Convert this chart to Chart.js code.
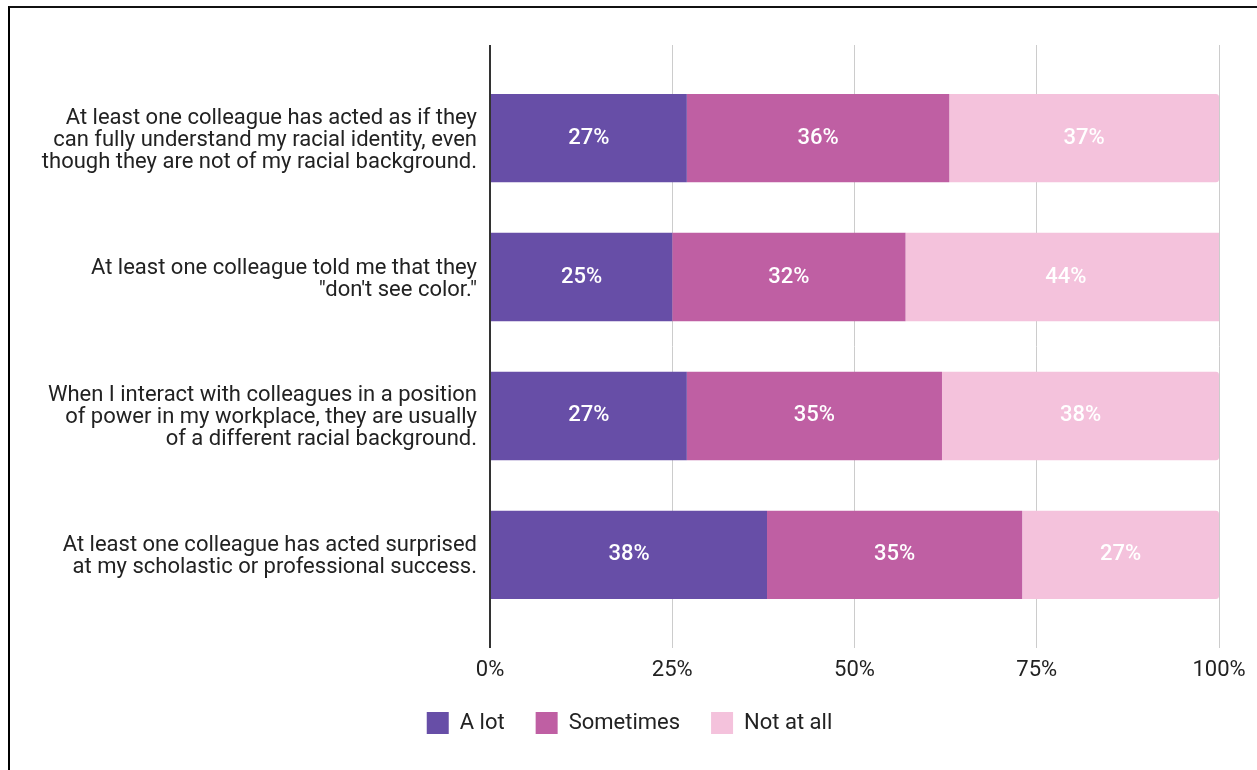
<!DOCTYPE html>
<html>
<head>
<meta charset="utf-8">
<title>Experiences with colleagues</title>
<script src="https://cdn.jsdelivr.net/npm/chart.js@4.4.1/dist/chart.umd.min.js"></script>
<style>
  html, body { margin: 0; padding: 0; background: #fff; }
  #frame {
    position: absolute; left: 8px; top: 6px; right: 0; bottom: 0;
    border-left: 2px solid #000; border-top: 2px solid #111;
  }
  #wrap { position: absolute; left: 0; top: 0; width: 1257px; height: 770px; }
</style>
</head>
<body>
<div id="frame"></div>
<div id="wrap"><canvas id="experienceChart" width="1257" height="770"></canvas></div>
<script>
// statements shown on the left, one array of lines each
const statements = [
  ['At least one colleague has acted as if they', 'can fully understand my racial identity, even', 'though they are not of my racial background.'],
  ['At least one colleague told me that they', '"don\'t see color."'],
  ['When I interact with colleagues in a position', 'of power in my workplace, they are usually', 'of a different racial background.'],
  ['At least one colleague has acted surprised', 'at my scholastic or professional success.']
];

const seriesNames = ['A lot', 'Sometimes', 'Not at all'];
const aLot = [27, 25, 27, 38];
const sometimes = [36, 32, 35, 35];
const notAtAll = [37, 44, 38, 27];

const xTicks = [0, 25, 50, 75, 100];
const colors = ['#674ea7', '#bf5fa3', '#f4c2dc'];

const FONT = 'Roboto, "Noto Sans", Arial, sans-serif';

// one bar row per statement, index on a linear y scale
function rows(values) {
  return values.map((v, i) => ({ x: v, y: i }));
}

// white percentage text centred on each segment
const segmentLabels = {
  id: 'segmentLabels',
  afterDatasetsDraw(chart) {
    const ctx = chart.ctx;
    ctx.save();
    ctx.font = '500 22px ' + FONT;
    ctx.fillStyle = '#ffffff';
    ctx.textAlign = 'center';
    ctx.textBaseline = 'middle';
    chart.data.datasets.forEach((ds, di) => {
      const meta = chart.getDatasetMeta(di);
      meta.data.forEach((bar, i) => {
        const p = bar.getProps(['x', 'y', 'base'], true);
        ctx.fillText(ds.data[i].x + '%', (p.x + p.base) / 2, p.y);
      });
    });
    ctx.restore();
  }
};

const seriesData = [aLot, sometimes, notAtAll];

const datasets = seriesNames.map((name, k) => ({
  label: name,
  data: rows(seriesData[k]),
  backgroundColor: colors[k],
  borderWidth: 0,
  borderRadius: k === seriesNames.length - 1 ? { topRight: 3, bottomRight: 3 } : 0,
  borderSkipped: false,
  barPercentage: 1,
  categoryPercentage: 0.636
}));

const ctx = document.getElementById('experienceChart').getContext('2d');

new Chart(ctx, {
  type: 'bar',
  data: { datasets: datasets },
  plugins: [segmentLabels],
  options: {
    indexAxis: 'y',
    responsive: false,
    animation: false,
    layout: { padding: { top: 45, right: 38, bottom: 26, left: 40 } },
    plugins: {
      legend: {
        position: 'bottom',
        labels: {
          boxWidth: 22,
          boxHeight: 22,
          padding: 31,
          color: '#222',
          font: { family: FONT, size: 22 }
        }
      },
      tooltip: { enabled: false }
    },
    scales: {
      x: {
        type: 'linear',
        stacked: true,
        min: 0,
        max: 100,
        afterBuildTicks: (scale) => { scale.ticks = xTicks.map(v => ({ value: v })); },
        afterFit: (scale) => { scale.height = 33; },
        border: { display: false },
        grid: {
          drawTicks: false,
          color: (c) => (c.tick && c.tick.value === 0 ? '#333333' : '#cccccc'),
          lineWidth: (c) => (c.tick && c.tick.value === 0 ? 2 : 1)
        },
        ticks: {
          padding: 9,
          color: '#222',
          font: { family: FONT, size: 22, lineHeight: 1.2 },
          callback: (v) => v + '%'
        }
      },
      y: {
        type: 'linear',
        stacked: true,
        reverse: true,
        offset: false,
        min: -0.67,
        max: 3.67,
        afterBuildTicks: (scale) => { scale.ticks = statements.map((s, i) => ({ value: i })); },
        afterFit: (scale) => { scale.width = 450; },
        border: { display: false },
        grid: { display: false, drawTicks: false },
        ticks: {
          padding: 13,
          labelOffset: 2,
          color: '#222',
          font: { family: FONT, size: 22, lineHeight: 1 },
          callback: (v) => statements[v]
        }
      }
    }
  }
});
</script>
</body>
</html>
